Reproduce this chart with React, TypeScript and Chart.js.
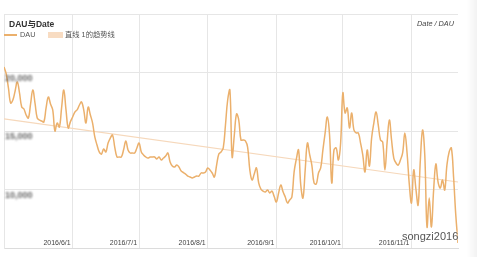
import React, { useEffect, useRef } from "react";
import { Chart, registerables } from "chart.js";

Chart.register(...registerables);

// ---- data ----
const startDate = "2016-05-01"; // first day of the daily series
const dauValues = [
  20470, 19870, 18680, 17390, 17650, 18400, 19190, 18250, 17050, 16880,
  16370, 16110, 17310, 18500, 17390, 16110, 15940, 15850, 15770, 16970,
  17910, 17310, 16800, 15000, 15680, 15340, 16970, 18500, 16800, 15260,
  15800, 16200, 16620, 16800, 17200, 17480, 16800, 15680, 17050, 16370,
  15680, 14490, 13800, 13210, 13030, 13460, 13210, 13970, 14400, 14660,
  13630, 12780, 12780, 12780, 13400, 14150, 13380, 13120, 13120, 13120,
  13550, 13970, 13210, 12950, 12780, 12690, 12780, 12780, 12780, 12610,
  12780, 12520, 12690, 12860, 13120, 12350, 12010, 11920, 12090, 11920,
  11580, 11450, 11320, 11150, 11070, 10980, 11070, 11150, 11150, 11410,
  11410, 11500, 11840, 11670, 11410, 11070, 12090, 13030, 13210, 13550,
  15510, 17650, 18500, 12780, 14660, 16450, 15940, 14230, 14230, 14150,
  13630, 11670, 10810, 11320, 11840, 10560, 10040, 9870, 9790, 9960,
  9700, 9870, 9400, 8930, 9700, 10380, 9800, 9360, 8850, 9100,
  9360, 11500, 12600, 13380, 10380, 9270, 11670, 13970, 13000, 12090,
  10560, 10470, 11410, 11840, 13380, 14830, 16200, 14660, 10560, 13380,
  13550, 12520, 13970, 18250, 16540, 16970, 15260, 16540, 15090, 14830,
  14830, 13970, 12950, 11500, 13380, 12010, 14400, 15680, 16620, 15510,
  14230, 14060, 11670, 14060, 15940, 14230, 12690, 12270, 12090, 12520,
  13120, 14830, 13120, 10470, 8850, 11670, 10040, 8680, 12520, 15090,
  12950, 6800, 9270, 6800, 9960, 12180, 10640, 10130, 10810, 9960,
  12090, 13210, 13550, 11070, 7820, 5430,
];
const endDate = "2016-11-22"; // right edge of the axis

const trendDates = ["2016-05-01", "2016-11-22"];
const trendValues = [16040, 10640];

const monthTickDates = ["2016-06-01", "2016-07-01", "2016-08-01", "2016-09-01", "2016-10-01", "2016-11-01"];
const monthTickLabels = ["2016/6/1", "2016/7/1", "2016/8/1", "2016/9/1", "2016/10/1", "2016/11/1"];

const yMin = 5000;
const yMax = 25000;
const yStep = 5000;
const yLabelValues = [20000, 15000, 10000];

const seriesName = "DAU";
const trendName = "直线 1的趋势线";
const titleText = "DAU与Date";
const axisCaption = "Date / DAU";
const watermark = "songzi2016";

// ---- helpers ----
const DAY = 86400000;
const dayOffset = (d: string) =>
  Math.round((Date.parse(d + "T00:00:00Z") - Date.parse(startDate + "T00:00:00Z")) / DAY);

const LINE_COLOR = "#ebb06c";
const TREND_COLOR = "#f6d8bb";
const GRID_COLOR = "#e6e6e6";
const FONT = '"Liberation Sans", Arial, "Noto Sans CJK SC", sans-serif';

const overlayPlugin = {
  id: "overlayLabels",
  afterDraw(chart: any) {
    const { ctx, chartArea, scales } = chart;
    ctx.save();
    ctx.font = `7px ${FONT}`;
    ctx.fillStyle = "#444";
    ctx.textAlign = "right";
    ctx.textBaseline = "middle";
    monthTickDates.forEach((d, i) => {
      const px = scales.x.getPixelForValue(dayOffset(d));
      ctx.fillText(monthTickLabels[i], px - 2, chartArea.bottom - 5);
    });
    ctx.filter = "blur(1.3px)";
    ctx.fillStyle = "#666";
    ctx.textAlign = "left";
    ctx.font = `bold 9px ${FONT}`;
    yLabelValues.forEach((v) => {
      const py = scales.y.getPixelForValue(v);
      ctx.fillText(v.toLocaleString("en-US"), chartArea.left + 1, py + 6);
    });
    ctx.restore();
  },
};

export default function App() {
  const canvasRef = useRef<HTMLCanvasElement | null>(null);

  useEffect(() => {
    const canvas = canvasRef.current;
    if (!canvas) return;
    const dauPoints = dauValues.map((v, i) => ({ x: i, y: v }));
    const trendPoints = trendDates.map((d, i) => ({ x: dayOffset(d), y: trendValues[i] }));
    const tickDays = monthTickDates.map(dayOffset);

    const chart = new Chart(canvas, {
      type: "line",
      data: {
        datasets: [
          {
            label: trendName,
            data: trendPoints,
            borderColor: TREND_COLOR,
            borderWidth: 1.2,
            pointRadius: 0,
            tension: 0,
            order: 2,
          },
          {
            label: seriesName,
            data: dauPoints,
            borderColor: LINE_COLOR,
            borderWidth: 1.5,
            pointRadius: 0,
            tension: 0.4,
            order: 1,
          },
        ],
      },
      options: {
        responsive: false,
        animation: false,
        events: [],
        layout: { padding: { left: 4, top: 14, right: 19, bottom: 9 } },
        plugins: { legend: { display: false }, tooltip: { enabled: false }, title: { display: false } },
        scales: {
          x: {
            type: "linear",
            min: 0,
            max: dayOffset(endDate),
            afterBuildTicks: (axis: any) => {
              axis.ticks = tickDays.map((v) => ({ value: v }));
            },
            ticks: { display: false },
            grid: { color: GRID_COLOR, drawTicks: false, lineWidth: 1 },
            border: { display: true, color: "#dcdcdc" },
          },
          y: {
            min: yMin,
            max: yMax,
            ticks: { display: false, stepSize: yStep },
            grid: { color: GRID_COLOR, drawTicks: false, lineWidth: 1 },
            border: { display: true, color: GRID_COLOR },
          },
        },
      },
      plugins: [overlayPlugin],
    });
    return () => chart.destroy();
  }, []);

  return (
    <div style={{ position: "fixed", left: 0, top: 0, width: 477, height: 257, background: "#fff", overflow: "hidden", fontFamily: FONT }}>
      <canvas ref={canvasRef} width={477} height={257} style={{ position: "absolute", left: 0, top: 0, width: 477, height: 257 }} />
      <div style={{ position: "absolute", left: 9, top: 19, fontSize: 8.5, fontWeight: "bold", color: "#333", lineHeight: "10px", whiteSpace: "nowrap" }}>{titleText}</div>
      <div style={{ position: "absolute", left: 4, top: 34, width: 13, height: 2, background: LINE_COLOR }} />
      <div style={{ position: "absolute", left: 20, top: 31, fontSize: 7.3, color: "#555", lineHeight: "8px", whiteSpace: "nowrap" }}>{seriesName}</div>
      <div style={{ position: "absolute", left: 48, top: 32, width: 15, height: 6, background: "#f8dcc2" }} />
      <div style={{ position: "absolute", left: 65, top: 31, fontSize: 7.3, color: "#555", lineHeight: "8px", whiteSpace: "nowrap" }}>{trendName}</div>
      <div style={{ position: "absolute", right: 23, top: 20, fontSize: 7.3, fontStyle: "italic", color: "#444", lineHeight: "8px", whiteSpace: "nowrap" }}>{axisCaption}</div>
      <div style={{ position: "absolute", left: 402, top: 230, fontSize: 11, color: "#555", lineHeight: "13px", whiteSpace: "nowrap", textShadow: "0 0 2px #fff, 0 0 2px #fff" }}>{watermark}</div>
      <div style={{ position: "absolute", right: 0, top: 0, width: 10, height: 257, background: "linear-gradient(to right, rgba(0,0,0,0), rgba(0,0,0,0.05))" }} />
    </div>
  );
}
